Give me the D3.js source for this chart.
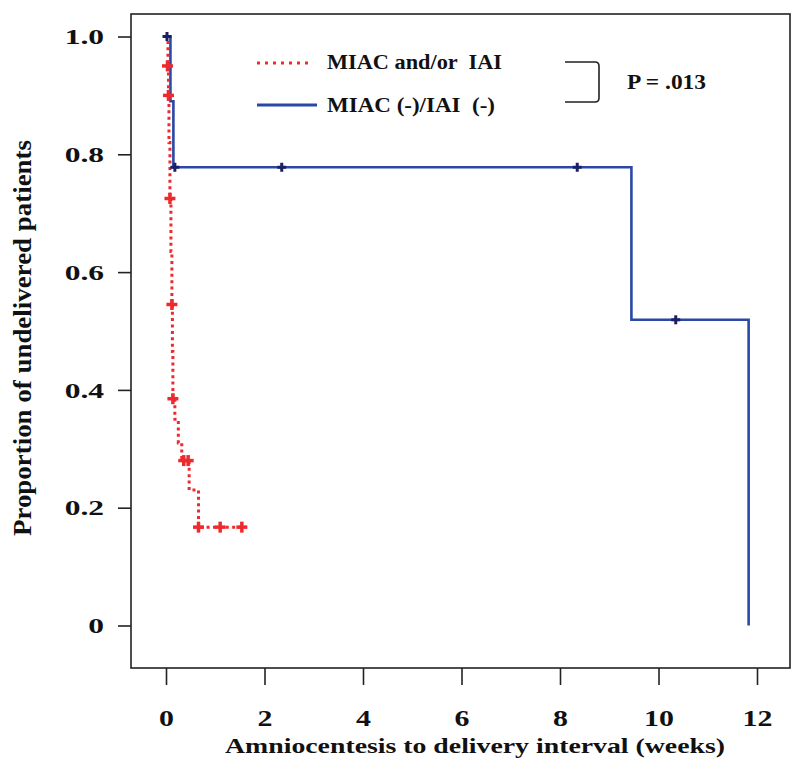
<!DOCTYPE html>
<html><head><meta charset="utf-8">
<script src="https://cdn.jsdelivr.net/npm/d3@7"></script>
<style>body{margin:0;background:#fff}svg{display:block}
text{font-family:"Liberation Serif","Times New Roman",Times,serif;font-weight:bold}</style>
</head><body>
<svg id="c" width="800" height="765"></svg>
<script>
// ---- data ----
const xTicks = [0, 2, 4, 6, 8, 10, 12];
const yTicks = [0, 0.2, 0.4, 0.6, 0.8, 1.0];
const yTickLabels = ["0", "0.2", "0.4", "0.6", "0.8", "1.0"];

// MIAC and/or IAI (red, dotted) step curve
const redTimes = [0, 0.04, 0.05, 0.06, 0.08, 0.10, 0.12, 0.13, 0.14, 0.18, 0.25, 0.32, 0.47, 0.66, 1.54];
const redSurv  = [1.0, 0.95, 0.90, 0.82, 0.725, 0.635, 0.545, 0.465, 0.385, 0.35, 0.31, 0.28, 0.23, 0.167, 0.167];
const redCensorTimes = [0.03, 0.05, 0.08, 0.12, 0.14, 0.36, 0.45, 0.66, 1.10, 1.54];
const redCensorSurv  = [0.95, 0.90, 0.725, 0.545, 0.385, 0.28, 0.28, 0.167, 0.167, 0.167];

// MIAC (-)/IAI (-) (blue, solid) step curve
const blueTimes = [0, 0.09, 0.15, 9.45, 11.83];
const blueSurv  = [1.0, 0.89, 0.778, 0.519, 0];
const blueCensorTimes = [0.02, 0.18, 2.35, 8.35, 10.35];
const blueCensorSurv  = [1.0, 0.778, 0.778, 0.778, 0.519];

const legendLabels = ["MIAC and/or  IAI", "MIAC (-)/IAI  (-)"];
const pText = "P = .013";
const xTitle = "Amniocentesis to delivery interval (weeks)";
const yTitle = "Proportion  of undelivered patients";

// ---- layout ----
const RED = "#ee2a2e", BLUE = "#2b48a6", NAVY = "#1b1f66";
const box = {l: 131, r: 790, t: 14, b: 668};
const x = d3.scaleLinear().domain([0, 12]).range([166, 757]);
const y = d3.scaleLinear().domain([0, 1]).range([625.5, 36.5]);

const svg = d3.select("#c");

function stretch(sel, k) {
  sel.each(function() {
    const w = this.getComputedTextLength();
    d3.select(this).attr("textLength", w * k).attr("lengthAdjust", "spacingAndGlyphs");
  });
}

// box
svg.append("rect").attr("x", box.l).attr("y", box.t)
  .attr("width", box.r - box.l).attr("height", box.b - box.t)
  .attr("fill", "none").attr("stroke", "#222").attr("stroke-width", 1.6);

// y axis
const yAxis = svg.append("g").attr("transform", `translate(${box.l},0)`)
  .call(d3.axisLeft(y).tickValues(yTicks).tickSize(13).tickPadding(14)
    .tickFormat((d, i) => yTickLabels[i]));
yAxis.attr("font-family", null);
yAxis.select(".domain").remove();
yAxis.selectAll(".tick line").attr("stroke", "#222").attr("stroke-width", 1.6);
yAxis.selectAll(".tick text").attr("font-size", 21).attr("fill", "#111").attr("dy", "0.34em");
stretch(yAxis.selectAll(".tick text"), 1.5);

// x axis
const xAxis = svg.append("g").attr("transform", `translate(0,${box.b})`)
  .call(d3.axisBottom(x).tickValues(xTicks).tickSize(17).tickFormat(d3.format("d")));
xAxis.attr("font-family", null);
xAxis.select(".domain").remove();
xAxis.selectAll(".tick line").attr("stroke", "#222").attr("stroke-width", 1.6);
xAxis.selectAll(".tick text").attr("font-size", 23).attr("fill", "#111").attr("y", 58).attr("dy", 0);
stretch(xAxis.selectAll(".tick text"), 1.3);

// titles
svg.append("text").attr("x", 475).attr("y", 753).attr("text-anchor", "middle")
  .attr("font-size", 22).attr("fill", "#111").text(xTitle)
  .attr("textLength", 500).attr("lengthAdjust", "spacingAndGlyphs");

svg.append("text").attr("transform", "translate(31,338) rotate(-90)")
  .attr("text-anchor", "middle").attr("font-size", 25).attr("fill", "#111").text(yTitle)
  .attr("textLength", 396).attr("lengthAdjust", "spacingAndGlyphs");

// curves
const line = d3.line().x(d => x(d[0])).y(d => y(d[1])).curve(d3.curveStepAfter);
const bluePts = blueTimes.map((t, i) => [t, blueSurv[i]]);
const redPts = redTimes.map((t, i) => [t, redSurv[i]]);

svg.append("path").attr("d", line(bluePts)).attr("fill", "none")
  .attr("stroke", BLUE).attr("stroke-width", 2.6);
svg.append("path").attr("d", line(redPts)).attr("fill", "none")
  .attr("stroke", RED).attr("stroke-width", 3).attr("stroke-dasharray", "3,3.4");

// censor marks
function plus(g, cx, cy, s, w, col) {
  g.append("line").attr("x1", cx - s).attr("x2", cx + s).attr("y1", cy).attr("y2", cy)
    .attr("stroke", col).attr("stroke-width", w);
  g.append("line").attr("x1", cx).attr("x2", cx).attr("y1", cy - s).attr("y2", cy + s)
    .attr("stroke", col).attr("stroke-width", w);
}
const cg = svg.append("g");
blueCensorTimes.forEach((t, i) => plus(cg, x(t), y(blueCensorSurv[i]), 4.5, 3, NAVY));
redCensorTimes.forEach((t, i) => plus(cg, x(t), y(redCensorSurv[i]), 5.5, 3.5, RED));

// legend
svg.append("line").attr("x1", 257).attr("x2", 313).attr("y1", 63).attr("y2", 63)
  .attr("stroke", RED).attr("stroke-width", 3).attr("stroke-dasharray", "3,5");
svg.append("line").attr("x1", 257).attr("x2", 317).attr("y1", 105).attr("y2", 105)
  .attr("stroke", BLUE).attr("stroke-width", 3);
[69, 112].forEach((yy, i) => {
  svg.append("text").attr("x", 327).attr("y", yy)
    .attr("font-size", 20).attr("fill", "#111")
    .attr("xml:space", "preserve").style("white-space", "pre").text(legendLabels[i])
    .attr("textLength", i === 0 ? 175 : 168).attr("lengthAdjust", "spacingAndGlyphs");
});

// bracket + p value
svg.append("path").attr("d", "M565,62 H595 Q599,62 599,66 V98 Q599,102 595,102 H565")
  .attr("fill", "none").attr("stroke", "#222").attr("stroke-width", 1.6);
svg.append("text").attr("x", 627).attr("y", 89)
  .attr("font-size", 21).attr("fill", "#111").text(pText)
  .attr("textLength", 79).attr("lengthAdjust", "spacingAndGlyphs");
</script>
</body></html>
